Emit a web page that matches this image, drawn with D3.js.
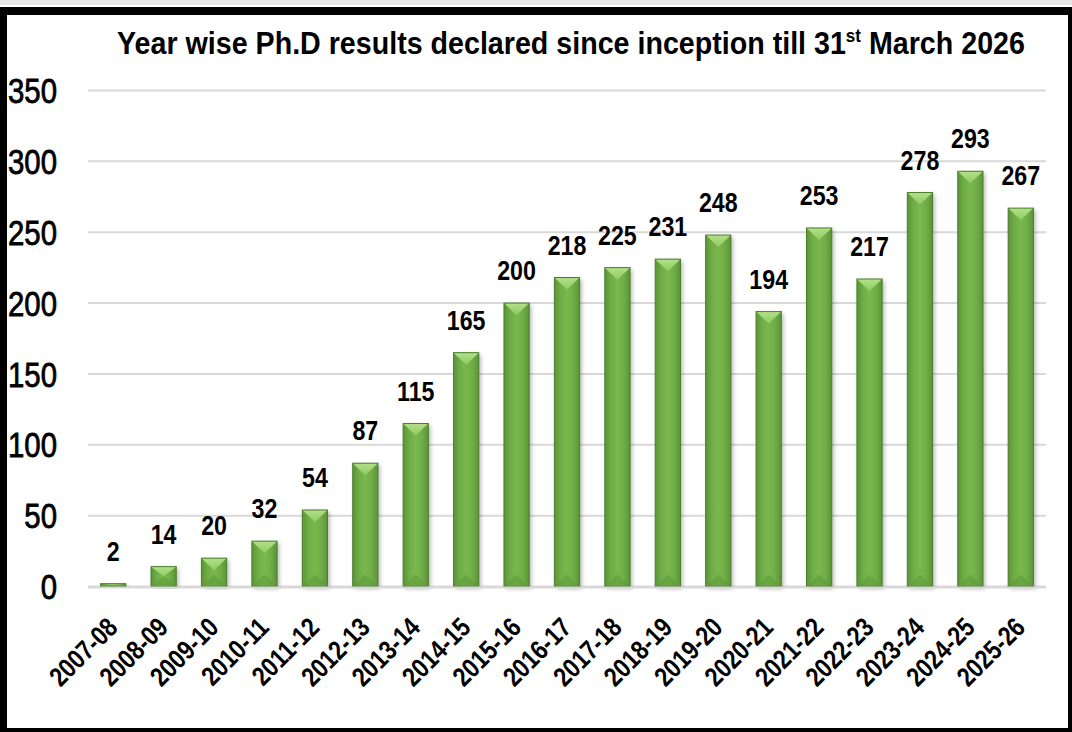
<!DOCTYPE html>
<html>
<head>
<meta charset="utf-8">
<script src="https://cdn.jsdelivr.net/npm/d3@7/dist/d3.min.js"></script>
<style>
  html, body { margin: 0; padding: 0; background: #fff; }
  svg { display: block; }
</style>
</head>
<body>
<svg id="chart" width="1072" height="732"></svg>
<script>
const categories = ["2007-08","2008-09","2009-10","2010-11","2011-12","2012-13","2013-14","2014-15","2015-16","2016-17","2017-18","2018-19","2019-20","2020-21","2021-22","2022-23","2023-24","2024-25","2025-26"];
const values = [2,14,20,32,54,87,115,165,200,218,225,231,248,194,253,217,278,293,267];
const yTicks = [0,50,100,150,200,250,300,350];
const titleMain = "Year wise Ph.D results declared since inception till 31";
const titleSup = "st";
const titleEnd = " March 2026";

const W = 1072, H = 732;
const svg = d3.select("#chart");
const FONT = "'Liberation Sans', Arial, sans-serif";

// frame
svg.append("rect").attr("x",0).attr("y",0).attr("width",W).attr("height",5).attr("fill","#e6e6e6");
svg.append("rect").attr("x",0).attr("y",7).attr("width",W).attr("height",H-7).attr("fill","#000");
svg.append("rect").attr("x",7).attr("y",15).attr("width",1068-7).attr("height",728-15).attr("fill","#fff");

const defs = svg.append("defs");
const g1 = defs.append("linearGradient").attr("id","barGrad").attr("x1","0").attr("x2","1").attr("y1","0").attr("y2","0");
g1.append("stop").attr("offset","0%").attr("stop-color","#5b9537");
g1.append("stop").attr("offset","25%").attr("stop-color","#70ad47");
g1.append("stop").attr("offset","50%").attr("stop-color","#7ab84e");
g1.append("stop").attr("offset","75%").attr("stop-color","#70ad47");
g1.append("stop").attr("offset","100%").attr("stop-color","#5b9537");
const g2 = defs.append("linearGradient").attr("id","topGrad").attr("x1","0").attr("x2","0").attr("y1","0").attr("y2","1");
g2.append("stop").attr("offset","0%").attr("stop-color","#b3e08a");
g2.append("stop").attr("offset","100%").attr("stop-color","#8fcb5f");
const f = defs.append("filter").attr("id","shadow").attr("x","-30%").attr("y","-10%").attr("width","160%").attr("height","120%");
f.append("feDropShadow").attr("dx",2).attr("dy",2).attr("stdDeviation",2).attr("flood-color","#000").attr("flood-opacity",0.3);

const x = d3.scaleBand().domain(categories).range([88, 1046]).paddingInner(0.5).paddingOuter(0.25);
const y = d3.scaleLinear().domain([0, 350]).range([586.5, 90.5]);

// gridlines
svg.append("g").selectAll("line").data(yTicks).join("line")
  .attr("x1", 88).attr("x2", 1046)
  .attr("y1", d => y(d)).attr("y2", d => y(d))
  .attr("stroke", "#d9d9d9").attr("stroke-width", 2);

// y labels
svg.append("g").selectAll("text").data(yTicks).join("text")
  .attr("x", 57).attr("y", d => y(d)).attr("dy", "0.36em")
  .attr("text-anchor", "end")
  .attr("font-family", FONT).attr("font-size", 35)
  .attr("fill", "#000").attr("stroke","#000").attr("stroke-width",0.8)
  .attr("transform", d => `translate(57,0) scale(0.84,1) translate(-57,0)`)
  .text(d => d);

// bars
const bars = svg.append("g");
categories.forEach((c, i) => {
  const v = values[i];
  const x0 = x(c), bw = x.bandwidth(), x1 = x0 + bw, cx = x0 + bw/2;
  const yt = y(v), yb = y(0);
  const h = yb - yt;
  const d = Math.min(12, h/2);
  const gg = bars.append("g");
  gg.append("rect").attr("x", x0).attr("y", yt).attr("width", bw).attr("height", h)
    .attr("fill", "url(#barGrad)").attr("filter","url(#shadow)");
  gg.append("polygon").attr("points", `${x0},${yb} ${x1},${yb} ${cx},${yb-d}`)
    .attr("fill", "#5f9a3a").attr("opacity", 0.6);
  gg.append("polygon").attr("points", `${x0},${yt} ${x1},${yt} ${cx},${yt+d}`)
    .attr("fill", "url(#topGrad)");
  gg.append("rect").attr("x", x0).attr("y", yt).attr("width", bw).attr("height", h)
    .attr("fill", "none").attr("stroke", "#4a7d2c").attr("stroke-width", 1);
  // data label
  svg.append("text").attr("x", cx).attr("y", yt - 23)
    .attr("text-anchor","middle").attr("font-family", FONT).attr("font-weight","bold")
    .attr("font-size", 27).attr("fill","#000")
    .attr("transform", `translate(${cx},0) scale(0.86,1) translate(${-cx},0)`)
    .text(v);
});

// baseline axis
svg.append("line").attr("x1",88).attr("x2",1046).attr("y1",y(0)+1).attr("y2",y(0)+1)
  .attr("stroke","#d9d9d9").attr("stroke-width",2);

// x labels
svg.append("g").selectAll("text").data(categories).join("text")
  .attr("text-anchor","end")
  .attr("font-family", FONT).attr("font-weight","bold").attr("font-size", 27)
  .attr("fill","#000")
  .attr("transform", c => `translate(${x(c)+x.bandwidth()/2+6},629) rotate(-45) scale(0.84,1)`)
  .text(c => c);

// title
const t = svg.append("text").attr("x", 571).attr("y", 54).attr("text-anchor","middle")
  .attr("font-family", FONT).attr("font-weight","bold").attr("font-size", 32).attr("fill","#000");
t.append("tspan").text(titleMain);
t.append("tspan").attr("font-size", 19).attr("dy", -12).text(titleSup);
t.append("tspan").attr("dy", 12).text(titleEnd);
const tw = t.node().getComputedTextLength();
const s = 908 / tw;
t.attr("transform", `translate(571,0) scale(${s},1) translate(-571,0)`);
</script>
</body>
</html>
